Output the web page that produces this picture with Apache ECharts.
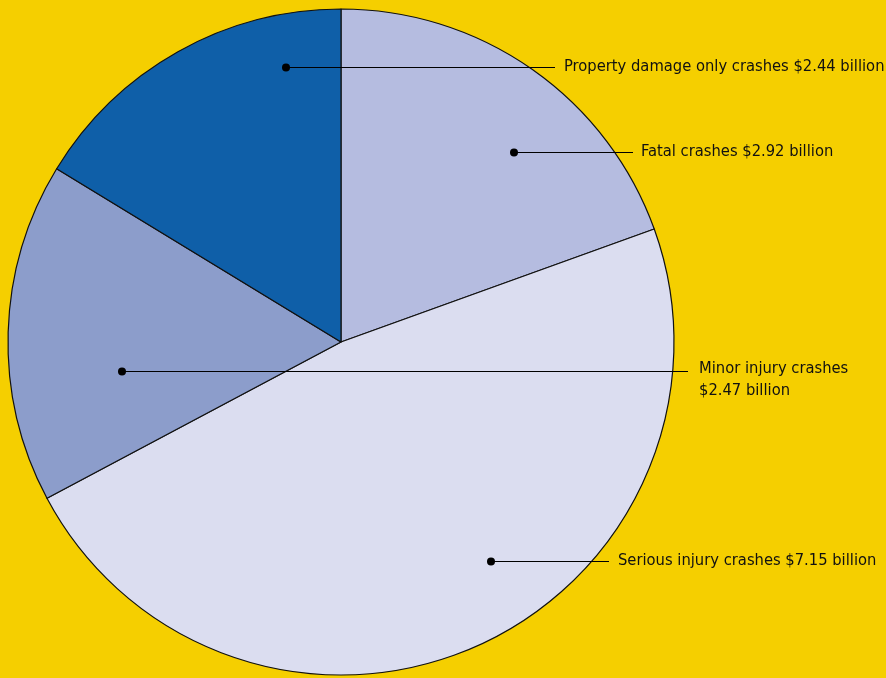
<!DOCTYPE html>
<html>
<head>
<meta charset="utf-8">
<style>
html,body{margin:0;padding:0;background:#F5CF00;}
#chart{width:886px;height:678px;}
</style>
<script src="https://cdn.jsdelivr.net/npm/echarts@6/dist/echarts.min.js"></script>
</head>
<body>
<div id="chart"></div>
<script>
const categories = ['Fatal crashes', 'Serious injury crashes', 'Minor injury crashes', 'Property damage only crashes'];
const values = [2.92, 7.15, 2.47, 2.44];
const labelTexts = ['Fatal crashes $2.92 billion', 'Serious injury crashes $7.15 billion', 'Minor injury crashes\n$2.47 billion', 'Property damage only crashes $2.44 billion'];
const colors = ['#B5BCE0', '#DBDDF0', '#8C9DCB', '#0F5FA8'];

// layout: dot position, line end, label anchor (pixels)
const layout = [
  {dot: [514, 152.5], end: [633, 152.5], label: [641, 152]},
  {dot: [491, 561.5], end: [609, 561.5], label: [618, 561]},
  {dot: [122, 371.5], end: [688, 371.5], label: [699, 380]},
  {dot: [286, 67.5], end: [555, 67.5], label: [564, 67]}
];

const FONT = "'Liberation Sans Narrow', 'DejaVu Sans Condensed', 'Roboto', sans-serif";
const chart = echarts.init(document.getElementById('chart'));
const data = categories.map((c, i) => ({name: c, value: values[i], itemStyle: {color: colors[i]}}));
const plain = categories.map((c, i) => ({name: c, value: values[i]}));
const base = {type: 'pie', center: [341, 342], radius: [0, 333], startAngle: 90, clockwise: true, avoidLabelOverlap: false, emphasis: {disabled: true}};

chart.setOption({
  backgroundColor: '#F5CF00',
  animation: false,
  series: [
    Object.assign({}, base, {
      data: data,
      itemStyle: {borderColor: '#111', borderWidth: 1.2},
      label: {show: false},
      labelLine: {show: false}
    }),
    Object.assign({}, base, {
      z: 5,
      silent: true,
      data: plain,
      itemStyle: {color: 'rgba(0,0,0,0)', borderWidth: 0},
      label: {
        show: true,
        position: 'outside',
        formatter: p => labelTexts[p.dataIndex],
        color: '#111',
        fontFamily: FONT,
        fontSize: 16.4,
        lineHeight: 22
      },
      labelLine: {show: true, lineStyle: {color: '#000', width: 1.2, opacity: 1}},
      labelLayout: function (p) {
        const l = layout[p.dataIndex];
        return {
          x: l.label[0], y: l.label[1], align: 'left', verticalAlign: 'middle',
          labelLinePoints: [l.dot, l.end, l.end]
        };
      }
    }),
    Object.assign({}, base, {
      z: 6,
      silent: true,
      data: plain,
      itemStyle: {color: 'rgba(0,0,0,0)', borderWidth: 0},
      label: {
        show: true,
        position: 'inside',
        formatter: '{d|}',
        rich: {d: {width: 8, height: 8, borderRadius: 4, backgroundColor: '#000'}}
      },
      labelLine: {show: false},
      labelLayout: function (p) {
        const l = layout[p.dataIndex];
        return {x: l.dot[0], y: l.dot[1], align: 'center', verticalAlign: 'middle'};
      }
    })
  ]
});
</script>
</body>
</html>
